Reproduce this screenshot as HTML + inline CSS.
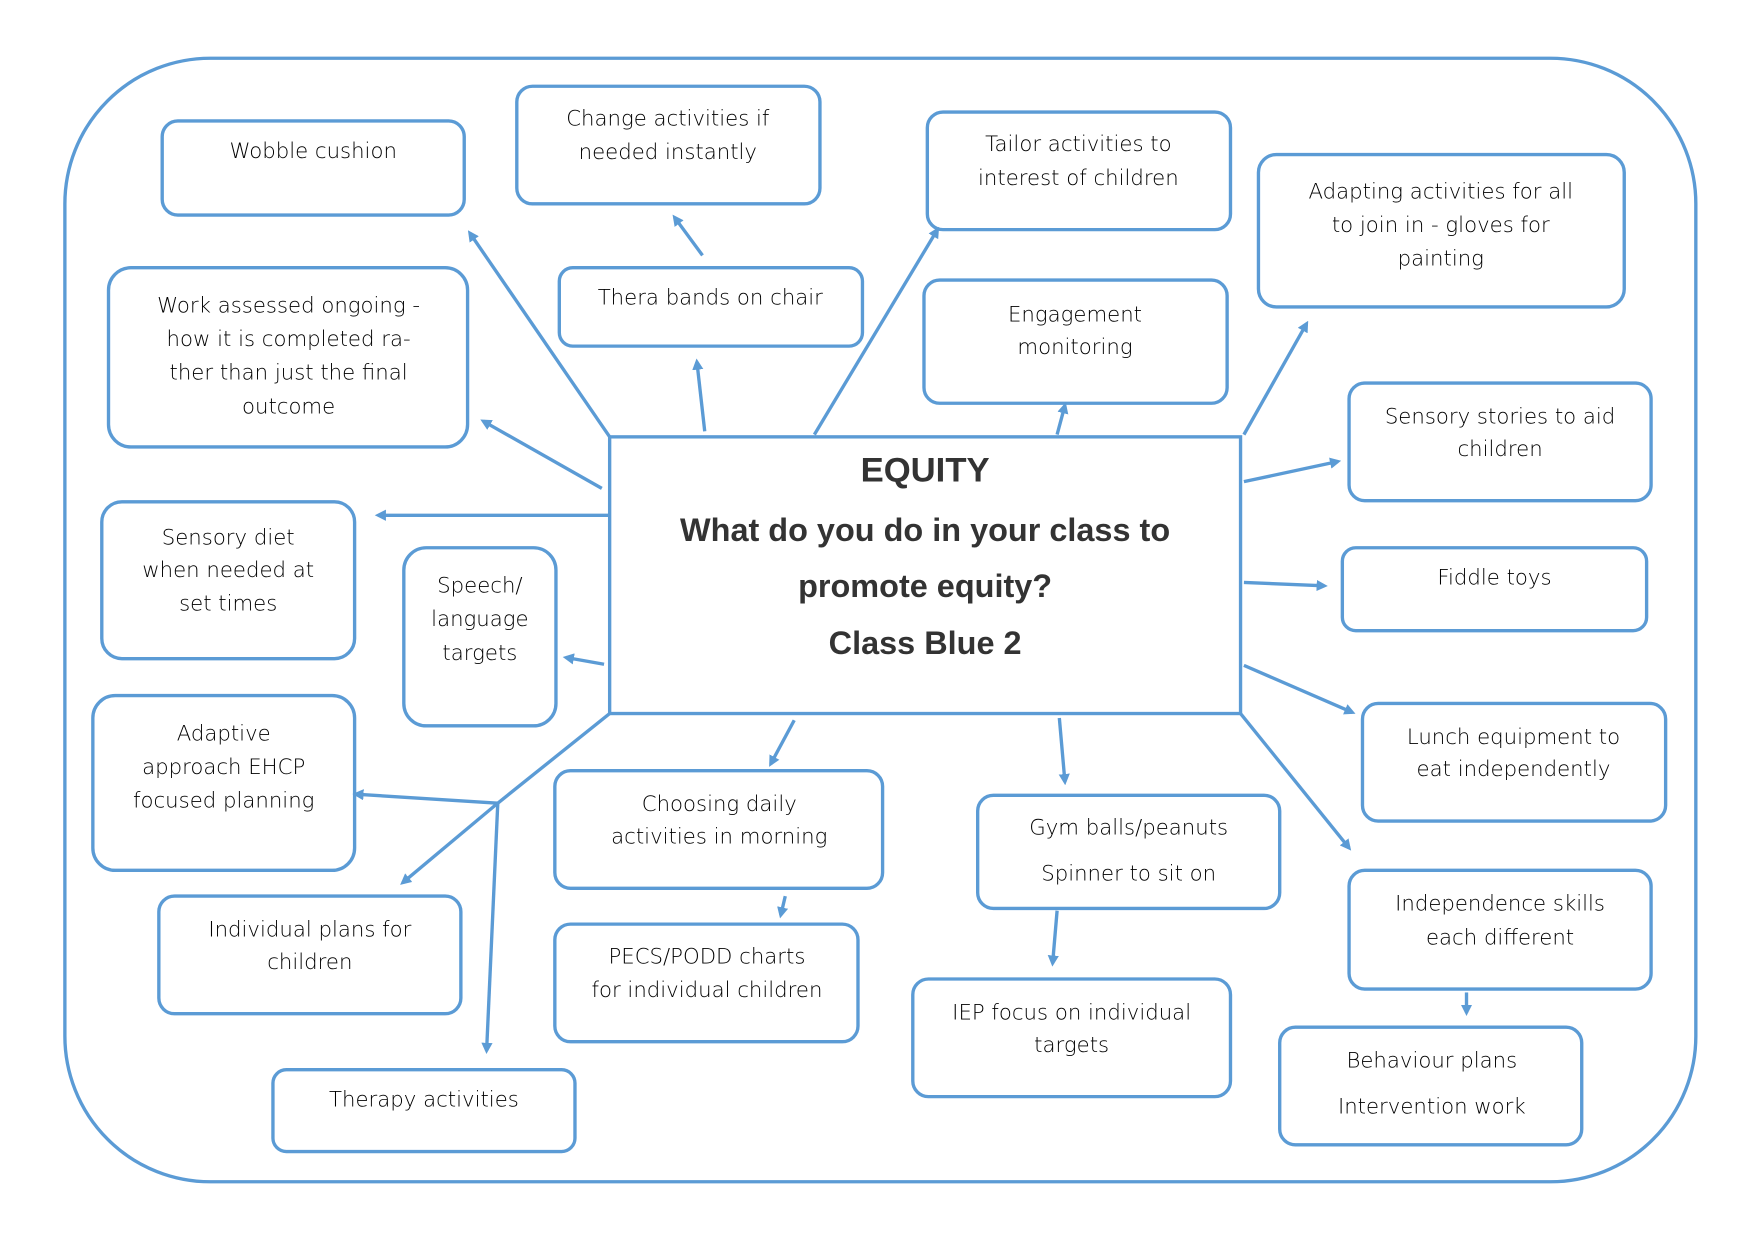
<!DOCTYPE html>
<html><head><meta charset="utf-8"><style>
html,body{margin:0;padding:0;background:#fff}
svg{display:block}
text{font-family:"DejaVu Sans","Liberation Sans",sans-serif;font-size:19px;fill:#000;text-anchor:middle;font-weight:300}
.c{font-family:"Liberation Sans",sans-serif;font-weight:bold;fill:#333}
</style></head><body>
<svg width="1754" height="1240" viewBox="0 0 1568 1107" preserveAspectRatio="none" xmlns="http://www.w3.org/2000/svg">
<defs><marker id="a" markerWidth="10" markerHeight="10" refX="7" refY="5" orient="auto" markerUnits="userSpaceOnUse"><path d="M0,0 L10,5 L0,10 Z" fill="#5b9bd5"/></marker></defs>
<g fill="none" stroke="#5b9bd5" stroke-width="3">
<rect x="58" y="52" width="1458" height="1003" rx="130"/>
<rect x="545" y="390" width="564" height="247"/>
<g>
<rect x="145" y="108" width="270" height="84" rx="14"/>
<rect x="462" y="77" width="271" height="105" rx="14"/>
<rect x="829" y="100" width="271" height="105" rx="14"/>
<rect x="1125" y="138" width="327" height="136" rx="16"/>
<rect x="97" y="239" width="321" height="160" rx="20"/>
<rect x="500" y="239" width="271" height="70" rx="12"/>
<rect x="826" y="250" width="271" height="110" rx="14"/>
<rect x="1206" y="342" width="270" height="105" rx="14"/>
<rect x="91" y="448" width="226" height="140" rx="18"/>
<rect x="361" y="489" width="136" height="159" rx="20"/>
<rect x="1200" y="489" width="272" height="74" rx="12"/>
<rect x="83" y="621" width="234" height="156" rx="20"/>
<rect x="1218" y="628" width="271" height="105" rx="14"/>
<rect x="496" y="688" width="293" height="105" rx="14"/>
<rect x="874" y="710" width="270" height="101" rx="14"/>
<rect x="142" y="800" width="270" height="105" rx="14"/>
<rect x="496" y="825" width="271" height="105" rx="14"/>
<rect x="816" y="874" width="284" height="105" rx="14"/>
<rect x="1206" y="777" width="270" height="106" rx="14"/>
<rect x="1144" y="917" width="270" height="105" rx="14"/>
<rect x="244" y="955" width="270" height="73" rx="12"/>
</g>
<g marker-end="url(#a)">
<line x1="545" y1="390" x2="420" y2="208"/>
<line x1="630" y1="385" x2="623" y2="323"/>
<line x1="628" y1="228" x2="603" y2="194"/>
<line x1="728" y1="388" x2="838" y2="205"/>
<line x1="945" y1="388" x2="952" y2="362"/>
<line x1="1112" y1="388" x2="1168" y2="289"/>
<line x1="538" y1="436" x2="432" y2="376"/>
<line x1="545" y1="460" x2="338" y2="460"/>
<line x1="540" y1="593" x2="506" y2="587"/>
<line x1="1112" y1="430" x2="1196" y2="412"/>
<line x1="1112" y1="520" x2="1184" y2="523"/>
<line x1="1112" y1="594" x2="1209" y2="636"/>
<line x1="1109" y1="637" x2="1206" y2="757"/>
<line x1="947" y1="641" x2="952" y2="698"/>
<line x1="710" y1="643" x2="689" y2="682"/>
<line x1="945" y1="813" x2="941" y2="860"/>
<line x1="702" y1="800" x2="698" y2="817"/>
<line x1="1311" y1="886" x2="1311" y2="904"/>
<line x1="445" y1="717" x2="360" y2="788"/>
<line x1="445" y1="717" x2="318" y2="709"/>
<line x1="445" y1="717" x2="435" y2="938"/>
</g>
<line x1="545" y1="637" x2="445" y2="717"/>
</g>
<text class="c" x="827" y="430" style="font-size:31px">EQUITY</text>
<text class="c" x="827" y="483" style="font-size:29px">What do you do in your class to</text>
<text class="c" x="827" y="533" style="font-size:29px">promote equity?</text>
<text class="c" x="827" y="584" style="font-size:29px">Class Blue 2</text>
<g>
<text x="280" y="141">Wobble cushion</text>
<text x="597" y="112">Change activities if</text><text x="597" y="142">needed instantly</text>
<text x="964" y="135">Tailor activities to</text><text x="964" y="165">interest of children</text>
<text x="1288" y="177">Adapting activities for all</text><text x="1288" y="207">to join in - gloves for</text><text x="1288" y="237">painting</text>
<text x="258" y="279">Work assessed ongoing -</text><text x="258" y="309">how it is completed ra-</text><text x="258" y="339">ther than just the final</text><text x="258" y="369">outcome</text>
<text x="635" y="272">Thera bands on chair</text>
<text x="961" y="287">Engagement</text><text x="961" y="316">monitoring</text>
<text x="1341" y="378">Sensory stories to aid</text><text x="1341" y="407">children</text>
<text x="204" y="486">Sensory diet</text><text x="204" y="515">when  needed at</text><text x="204" y="545">set times</text>
<text x="429" y="529">Speech/</text><text x="429" y="559">language</text><text x="429" y="589">targets</text>
<text x="1336" y="522">Fiddle toys</text>
<text x="200" y="661">Adaptive</text><text x="200" y="691">approach EHCP</text><text x="200" y="721">focused planning</text>
<text x="1353" y="664">Lunch equipment to</text><text x="1353" y="693">eat independently</text>
<text x="643" y="724">Choosing daily</text><text x="643" y="753">activities in morning</text>
<text x="1009" y="745">Gym balls/peanuts</text><text x="1009" y="786">Spinner to sit on</text>
<text x="277" y="836">Individual plans for</text><text x="277" y="865">children</text>
<text x="632" y="860">PECS/PODD charts</text><text x="632" y="890">for individual children</text>
<text x="958" y="910">IEP focus on individual</text><text x="958" y="939">targets</text>
<text x="1341" y="813">Independence skills</text><text x="1341" y="843">each different</text>
<text x="1280" y="953">Behaviour plans</text><text x="1280" y="994">Intervention work</text>
<text x="379" y="988">Therapy activities</text>
</g>
</svg>
</body></html>
